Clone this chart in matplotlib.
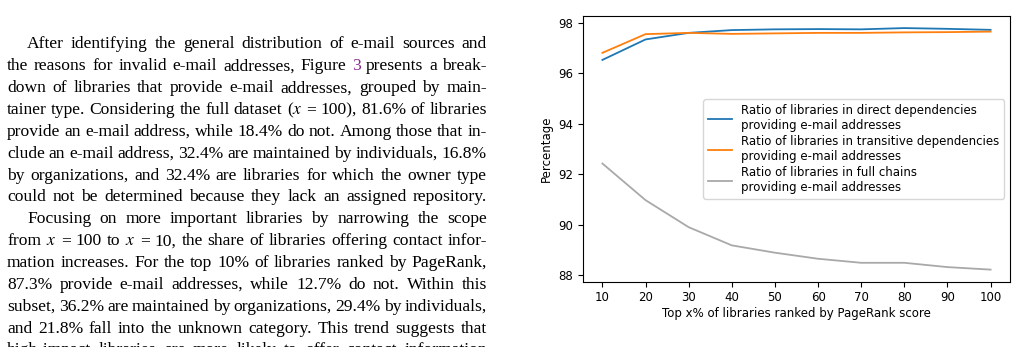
import numpy as np
import matplotlib
matplotlib.use('Agg')
from matplotlib import pyplot as plt

# Data
top_pct = [10, 20, 30, 40, 50, 60, 70, 80, 90, 100]
direct = [96.53, 97.34, 97.60, 97.71, 97.74, 97.75, 97.74, 97.79, 97.76, 97.72]
transitive = [96.81, 97.55, 97.60, 97.56, 97.58, 97.60, 97.60, 97.62, 97.63, 97.65]
full_chain = [92.43, 90.98, 89.91, 89.19, 88.90, 88.66, 88.50, 88.50, 88.33, 88.23]

labels = ['Ratio of libraries in direct dependencies\nproviding e-mail addresses',
          'Ratio of libraries in transitive dependencies\nproviding e-mail addresses',
          'Ratio of libraries in full chains\nproviding e-mail addresses']

# Body text next to the figure (justified lines, indent flag)
body_lines = [
    (True, 'After identifying the general distribution of e-mail sources and'),
    (False, 'the reasons for invalid e-mail addresses, Figure [3] presents a break-'),
    (False, 'down of libraries that provide e-mail addresses, grouped by main-'),
    (False, 'tainer type. Considering the full dataset ($x$ = 100), 81.6% of libraries'),
    (False, 'provide an e-mail address, while 18.4% do not. Among those that in-'),
    (False, 'clude an e-mail address, 32.4% are maintained by individuals, 16.8%'),
    (False, 'by organizations, and 32.4% are libraries for which the owner type'),
    (False, 'could not be determined because they lack an assigned repository.'),
    (True, 'Focusing on more important libraries by narrowing the scope'),
    (False, 'from $x$ = 100 to $x$ = 10, the share of libraries offering contact infor-'),
    (False, 'mation increases. For the top 10% of libraries ranked by PageRank,'),
    (False, '87.3% provide e-mail addresses, while 12.7% do not. Within this'),
    (False, 'subset, 36.2% are maintained by organizations, 29.4% by individuals,'),
    (False, 'and 21.8% fall into the unknown category. This trend suggests that'),
    (False, 'high-impact libraries are more likely to offer contact information'),
]

plt.rcParams['mathtext.fontset'] = 'stix'

W, H = 1018, 347
fig = plt.figure(figsize=(W / 100, H / 100), dpi=100)
renderer = fig.canvas.get_renderer()

# Justified text column
x_left, x_right, indent = 7, 487, 20
base0, lead = 48.5, 21.85
fsize = 12.6
for i, (ind, line) in enumerate(body_lines):
    y = 1 - (base0 + i * lead) / H
    words = line.split(' ')
    texts = []
    for w in words:
        color = 'black'
        if w.startswith('[') and w.endswith(']'):
            w = w[1:-1]
            color = '#8b2c8f'
        t = fig.text(0, y, w, fontsize=fsize, family='Liberation Serif',
                     va='baseline', ha='left', color=color)
        texts.append(t)
    widths = [t.get_window_extent(renderer).width for t in texts]
    start = x_left + (indent if ind else 0)
    gap = (x_right - start - sum(widths)) / max(len(texts) - 1, 1)
    gap = max(gap, 2.0)
    pos = start
    for t, wd in zip(texts, widths):
        t.set_x(pos / W)
        pos += wd + gap

# Chart
ax = fig.add_axes([583 / W, 1 - 281.7 / H, (1010 - 583) / W, (281.7 - 16) / H])
ax.plot(top_pct, direct, color='#1f77b4', lw=1.3, label=labels[0])
ax.plot(top_pct, transitive, color='#ff7f0e', lw=1.3, label=labels[1])
ax.plot(top_pct, full_chain, color='#a9a9a9', lw=1.3, label=labels[2])

ax.set_xticks(top_pct)
ax.set_yticks([88, 90, 92, 94, 96, 98])
ax.tick_params(labelsize=8.5)
ax.set_xlabel('Top x% of libraries ranked by PageRank score', fontsize=8.5, labelpad=2)
ax.set_ylabel('Percentage', fontsize=8.5)
ax.legend(loc='center right', fontsize=8.5, handlelength=2.0, labelspacing=0.25)

fig.savefig('out.png', dpi=100)
